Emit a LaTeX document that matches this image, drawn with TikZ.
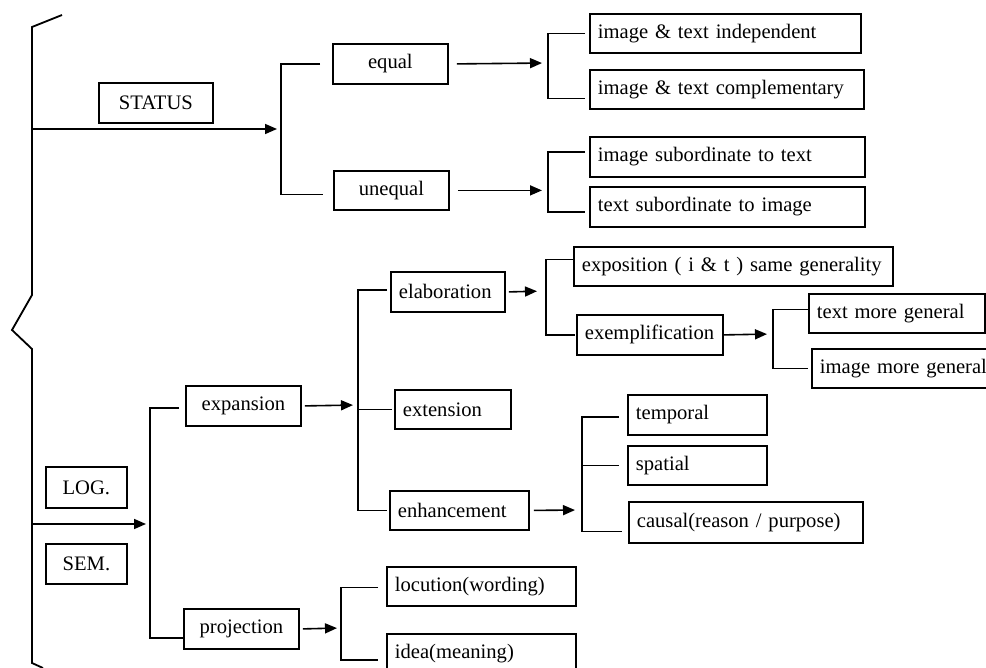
\documentclass[tikz,border=0pt]{standalone}
\usepackage{fontspec}
\setmainfont{Liberation Serif}
\usetikzlibrary{arrows.meta}
\hyphenpenalty=10000
\begin{document}
\begin{tikzpicture}[x=0.5pt,y=-0.5pt,
  box/.style={draw,line width=0.9pt,anchor=north west,inner xsep=4pt,inner ysep=0pt,
    align=left,font=\fontsize{10.3}{12}\selectfont},
  cbox/.style={box,align=center},
  link/.style={line width=0.8pt},
  arr/.style={link,-{Triangle[length=6pt,width=5pt]}}]
  \useasboundingbox (0,0) rectangle (986,668);
% brace
  \draw[line width=0.9pt] (62,15) -- (32,27) -- (32,295) -- (12,330) -- (32,349) -- (32,663) -- (43,668);
  \coordinate (st) at (32,129);
  \coordinate (ls) at (32,524);
% status boxes
  \node[cbox,text width=49pt,minimum height=20pt] (status) at (98,82) {STATUS};
  \node[cbox,text width=49.5pt,minimum height=20pt] (equal) at (332,43) {equal};
  \node[cbox,text width=49.5pt,minimum height=19.5pt] (unequal) at (333,170) {unequal};
  \node[box,text width=127.5pt,minimum height=19.5pt] (indep) at (589,13) {image \& text independent};
  \node[box,text width=129pt,minimum height=19.5pt] (compl) at (589,69) {image \& text complementary};
  \node[box,text width=129.5pt,minimum height=20pt] (subtext) at (589,136) {image subordinate to text};
  \node[box,text width=129.5pt,minimum height=20pt] (subimg) at (589,186) {text subordinate to image};
% logico-semantic boxes
  \node[cbox,text width=32.5pt,minimum height=20.5pt] (log) at (45,466) {LOG.};
  \node[cbox,text width=32.5pt,minimum height=20pt] (sem) at (45,543) {SEM.};
  \node[cbox,text width=49.5pt,minimum height=20pt] (expansion) at (185,385) {expansion};
  \node[cbox,text width=49.5pt,minimum height=20pt] (projection) at (183,608) {projection};
  \node[box,text width=49pt,minimum height=20pt] (elaboration) at (390,271) {elaboration};
  \node[box,text width=50pt,minimum height=19.5pt] (extension) at (394,389) {extension};
  \node[box,text width=61.5pt,minimum height=19.5pt] (enhancement) at (389,490) {enhancement};
  \node[box,text width=151.5pt,minimum height=19.5pt] (exposition) at (573,246) {exposition ( i \& t ) same generality};
  \node[box,text width=65pt,minimum height=20pt] (exemplification) at (576,314) {exemplification};
  \node[box,text width=80pt,minimum height=19.5pt] (textgen) at (808,293) {text more general};
  \node[box,text width=86pt,minimum height=19.5pt] (imggen) at (811,348) {image more general};
  \node[box,text width=61.5pt,minimum height=20pt] (temporal) at (627,394) {temporal};
  \node[box,text width=61.5pt,minimum height=19.5pt] (spatial) at (627,445) {spatial};
  \node[box,text width=109pt,minimum height=20.5pt] (causal) at (628,501) {causal(reason / purpose)};
  \node[box,text width=86.5pt,minimum height=19.5pt] (locution) at (386,566) {locution(wording)};
  \node[box,text width=86.5pt,minimum height=20pt] (idea) at (386,633) {idea(meaning)};
% spines
  \coordinate (stspine) at (281,129);
  \coordinate (eqspine) at (548,63);
  \coordinate (uneqspine) at (unequal.east -| eqspine);
  \coordinate (lsspine) at (150,524);
  \coordinate (exspine) at (358,405);
  \coordinate (elspine) at (546,291);
  \coordinate (emspine) at (773,334);
  \coordinate (enspine) at (582,510);
  \coordinate (prspine) at (341,628);
% status links
  \draw[arr,shorten >=2pt] (st) -- (stspine);
  \draw[link] ([xshift=-6pt]equal.west) -| (stspine) |- ([xshift=-5pt,yshift=-2pt]unequal.west);
  \draw[arr,shorten >=3pt] ([xshift=4pt]equal.east) -- (eqspine);
  \draw[link] ([xshift=-2pt]indep.west) -| (eqspine) |- ([xshift=-2pt,yshift=-4.5pt]compl.west);
  \draw[arr,shorten >=3pt] ([xshift=4pt]unequal.east) -- (uneqspine);
  \draw[link] ([xshift=-2pt,yshift=2.5pt]subtext.west) -| (uneqspine) |- ([xshift=-2pt,yshift=-2.5pt]subimg.west);
% logico-semantic links
  \draw[arr,shorten >=2pt] (ls) -- (lsspine);
  \draw[link] ([xshift=-3pt,yshift=-1pt]expansion.west) -| (lsspine) |- ([yshift=-4.5pt]projection.west);
  \draw[arr,shorten >=2.5pt] ([xshift=1.5pt]expansion.east) -- (exspine);
  \draw[link] ([xshift=-1.5pt,yshift=1pt]elaboration.west) -| (exspine) |- ([xshift=-1pt]enhancement.west);
  \draw[link] (exspine |- extension.west) -- ([xshift=-1pt]extension.west);
  \draw[arr,shorten >=4.5pt] ([xshift=1.5pt]elaboration.east) -- (elspine);
  \draw[link] ([yshift=3.5pt]exposition.west) -| (elspine) |- ([xshift=-0.5pt]exemplification.west);
  \draw[arr,shorten >=3pt] (exemplification.east) -- (emspine);
  \draw[link] ([yshift=2pt]textgen.west) -| (emspine) |- ([xshift=-1.5pt]imggen.west);
  \draw[arr,shorten >=3.5pt] ([xshift=2pt]enhancement.east) -- (enspine);
  \draw[link] ([xshift=-4pt,yshift=-1pt]temporal.west) -| (enspine) |- ([xshift=-3pt,yshift=-4.5pt]causal.west);
  \draw[link] (enspine |- spatial.west) -- ([xshift=-4pt]spatial.west);
  \draw[arr,shorten >=2pt] ([xshift=1.5pt]projection.east) -- (prspine);
  \draw[link] ([xshift=-4pt,yshift=-0.5pt]locution.west) -| (prspine) |- ([xshift=-4pt,yshift=-3pt]idea.west);
\end{tikzpicture}
\end{document}
